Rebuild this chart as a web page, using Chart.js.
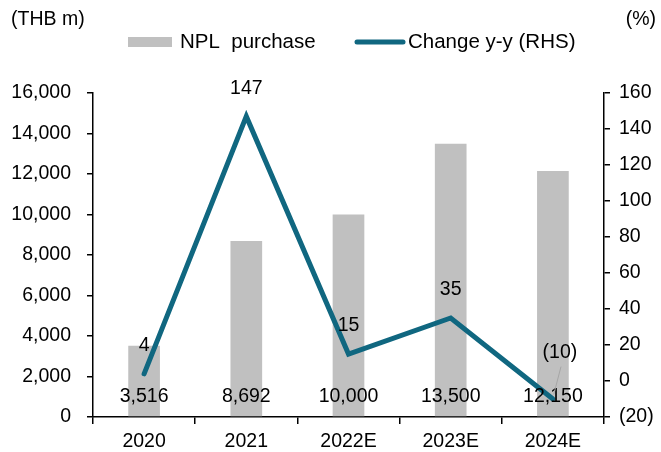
<!DOCTYPE html>
<html>
<head>
<meta charset="utf-8">
<script src="https://cdn.jsdelivr.net/npm/chart.js@4.4.0/dist/chart.umd.min.js"></script>
<style>
    body { margin: 0; background: #fff; }
    #wrap { width: 661px; height: 452px; }
</style>
</head>
<body>
<div id="wrap"><canvas id="chart" width="661" height="452"></canvas></div>
<script>
// Data
const categories = ['2020', '2021', '2022E', '2023E', '2024E'];
const nplPurchase = [3516, 8692, 10000, 13500, 12150];
const changeYY = [4, 147, 15, 35, -10];

const leftTicks = { min: 0, max: 16000, step: 2000 };
const rightTicks = { min: -20, max: 160, step: 20 };

const FONT = '"Liberation Sans", Arial, sans-serif';
const BAR_COLOR = '#c0c0c0';
const LINE_COLOR = '#106780';

const fmtNum = v => v.toLocaleString('en-US');
const fmtPct = v => v < 0 ? '(' + Math.abs(v) + ')' : String(v);

/**
 * Legend, unit labels and value labels
 */
const labelPlugin = {
    id: 'labels',
    afterDatasetsDraw(chart) {
        const ctx = chart.ctx;
        const area = chart.chartArea;
        ctx.save();
        ctx.fillStyle = '#000';
        ctx.textBaseline = 'middle';

        // unit labels
        ctx.font = '19.5px ' + FONT;
        ctx.textAlign = 'left';
        ctx.fillText('(THB m)', 11, 20);
        ctx.textAlign = 'right';
        ctx.fillText('(%)', 656, 20);

        // legend
        ctx.font = '20.5px ' + FONT;
        ctx.fillStyle = BAR_COLOR;
        ctx.fillRect(128, 37, 44, 10);
        ctx.fillStyle = '#000';
        ctx.textAlign = 'left';
        ctx.fillText('NPL  purchase', 180, 42);
        ctx.strokeStyle = LINE_COLOR;
        ctx.lineWidth = 5;
        ctx.lineCap = 'round';
        ctx.beginPath();
        ctx.moveTo(357, 42);
        ctx.lineTo(403, 42);
        ctx.stroke();
        ctx.fillText('Change y-y (RHS)', 408, 42);

        // bar values along the bottom
        ctx.font = '19.5px ' + FONT;
        ctx.textAlign = 'center';
        chart.getDatasetMeta(1).data.forEach((bar, i) => {
            ctx.fillText(fmtNum(nplPurchase[i]), bar.x, area.bottom - 20);
        });

        // line values above points
        chart.getDatasetMeta(0).data.forEach((pt, i) => {
            const v = changeYY[i];
            if (v < 0) {
                ctx.fillText(fmtPct(v), pt.x + 7, pt.y - 46);
                ctx.strokeStyle = '#a6a6a6';
                ctx.lineWidth = 1;
                ctx.beginPath();
                ctx.moveTo(pt.x + 8, pt.y - 32);
                ctx.lineTo(pt.x + 1, pt.y - 5);
                ctx.stroke();
            } else {
                ctx.fillText(fmtPct(v), pt.x, pt.y - 28);
            }
        });
        ctx.restore();
    }
};

new Chart(document.getElementById('chart'), {
    data: {
        labels: categories,
        datasets: [
            {
                type: 'line',
                label: 'Change y-y (RHS)',
                data: changeYY,
                yAxisID: 'y1',
                borderColor: LINE_COLOR,
                borderWidth: 5,
                borderCapStyle: 'round',
                borderJoinStyle: 'miter',
                pointRadius: 0,
                tension: 0,
                order: 0
            },
            {
                type: 'bar',
                label: 'NPL  purchase',
                data: nplPurchase,
                yAxisID: 'y',
                backgroundColor: BAR_COLOR,
                barPercentage: 0.31,
                categoryPercentage: 1,
                order: 1
            }
        ]
    },
    options: {
        responsive: false,
        animation: false,
        layout: { padding: { top: 93, left: 0, right: 0, bottom: 0 } },
        plugins: {
            legend: { display: false },
            tooltip: { enabled: false }
        },
        scales: {
            x: {
                offset: true,
                grid: {
                    offset: true,
                    drawOnChartArea: false,
                    drawTicks: true,
                    tickLength: 7,
                    color: '#000',
                    lineWidth: 1.5
                },
                border: { color: '#000', width: 1.5 },
                ticks: {
                    color: '#000',
                    font: { family: FONT, size: 19.5 },
                    padding: 6,
                    maxRotation: 0
                },
                afterFit(scale) { scale.height = 35; }
            },
            y: {
                position: 'left',
                min: leftTicks.min,
                max: leftTicks.max,
                grid: {
                    drawOnChartArea: false,
                    drawTicks: true,
                    tickLength: 6,
                    color: '#000',
                    lineWidth: 1.5
                },
                border: { color: '#000', width: 1.5 },
                ticks: {
                    stepSize: leftTicks.step,
                    color: '#000',
                    font: { family: FONT, size: 19.5 },
                    padding: 16,
                    callback: v => fmtNum(v)
                },
                afterFit(scale) { scale.width = 93; }
            },
            y1: {
                position: 'right',
                min: rightTicks.min,
                max: rightTicks.max,
                grid: {
                    drawOnChartArea: false,
                    drawTicks: true,
                    tickLength: 6,
                    color: '#000',
                    lineWidth: 1.5
                },
                border: { color: '#000', width: 1.5 },
                ticks: {
                    stepSize: rightTicks.step,
                    color: '#000',
                    font: { family: FONT, size: 19.5 },
                    padding: 9,
                    callback: v => fmtPct(v)
                },
                afterFit(scale) { scale.width = 57; }
            }
        }
    },
    plugins: [labelPlugin]
});
</script>
</body>
</html>
